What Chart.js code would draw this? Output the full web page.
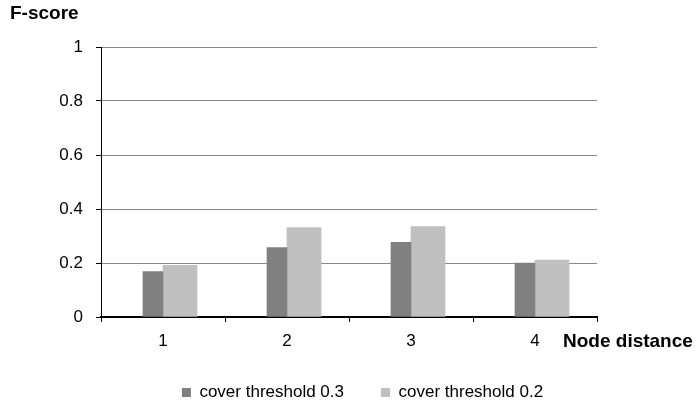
<!DOCTYPE html>
<html>
<head>
<meta charset="utf-8">
<script src="https://cdn.jsdelivr.net/npm/chart.js@4/dist/chart.umd.min.js"></script>
<style>
  html, body { margin: 0; padding: 0; background: #fff; }
  #wrap { width: 698px; height: 405px; }
</style>
</head>
<body>
<div id="wrap"><canvas id="fscoreChart"></canvas></div>
<script>
// node distance categories and F-score per cover threshold
const categories = ['1', '2', '3', '4'];
const threshold03 = [0.168, 0.257, 0.277, 0.200];
const threshold02 = [0.191, 0.331, 0.335, 0.211];
const yTicks = [0, 0.2, 0.4, 0.6, 0.8, 1];

const FONT = "'Liberation Sans', Arial, sans-serif";

// axis captions: "F-score" above the y axis, "Node distance" right of the x labels
const captions = {
    id: 'captions',
    afterDraw(chart) {
        const ctx = chart.ctx;
        const area = chart.chartArea;
        ctx.save();
        ctx.fillStyle = '#000';
        ctx.font = 'bold 19px ' + FONT;
        ctx.textBaseline = 'middle';
        ctx.textAlign = 'left';
        ctx.fillText('F-score', 10, 14);
        ctx.fillText('Node distance', area.right - 34, area.bottom + 25);
        ctx.restore();
    }
};

new Chart(document.getElementById('fscoreChart'), {
    type: 'bar',
    data: {
        labels: categories,
        datasets: [
            {
                label: 'cover threshold 0.3',
                data: threshold03,
                backgroundColor: '#808080',
                barThickness: 20
            },
            {
                label: 'cover threshold 0.2',
                data: threshold02,
                backgroundColor: '#c0c0c0',
                barThickness: 34
            }
        ]
    },
    options: {
        responsive: true,
        maintainAspectRatio: false,
        animation: false,
        layout: { padding: { top: 47, right: 0, left: 27, bottom: 0 } },
        datasets: { bar: { categoryPercentage: 0.435 } },
        scales: {
            x: {
                offset: true,
                grid: {
                    offset: true,
                    drawOnChartArea: false,
                    tickLength: 5,
                    color: '#000',
                    lineWidth: 1
                },
                border: { color: '#000', width: 2 },
                ticks: { color: '#000', font: { family: FONT, size: 17 }, padding: 9 },
                afterFit: s => { s.height = 30; }
            },
            y: {
                min: 0,
                max: 1,
                afterBuildTicks: s => { s.ticks = yTicks.map(v => ({ value: v })); },
                grid: {
                    color: '#8a8a8a',
                    lineWidth: 1,
                    tickLength: 5,
                    tickColor: '#000'
                },
                border: { color: '#000', width: 1 },
                ticks: {
                    color: '#000',
                    font: { family: FONT, size: 17 },
                    padding: 13,
                    callback: v => String(v)
                },
                afterFit: s => { s.width = 74; }
            },
            // empty right-hand margin, keeps the plot narrow and the legend centred
            spacer: {
                position: 'right',
                display: true,
                grid: { display: false },
                border: { display: false },
                ticks: { display: false },
                afterFit: s => { s.width = 101; }
            }
        },
        plugins: {
            legend: {
                position: 'bottom',
                maxHeight: 58,
                labels: {
                    color: '#000',
                    font: { family: FONT, size: 17, lineHeight: 1 },
                    boxWidth: 9,
                    boxHeight: 9,
                    padding: 37
                }
            },
            tooltip: { enabled: false }
        }
    },
    plugins: [captions]
});
</script>
</body>
</html>
